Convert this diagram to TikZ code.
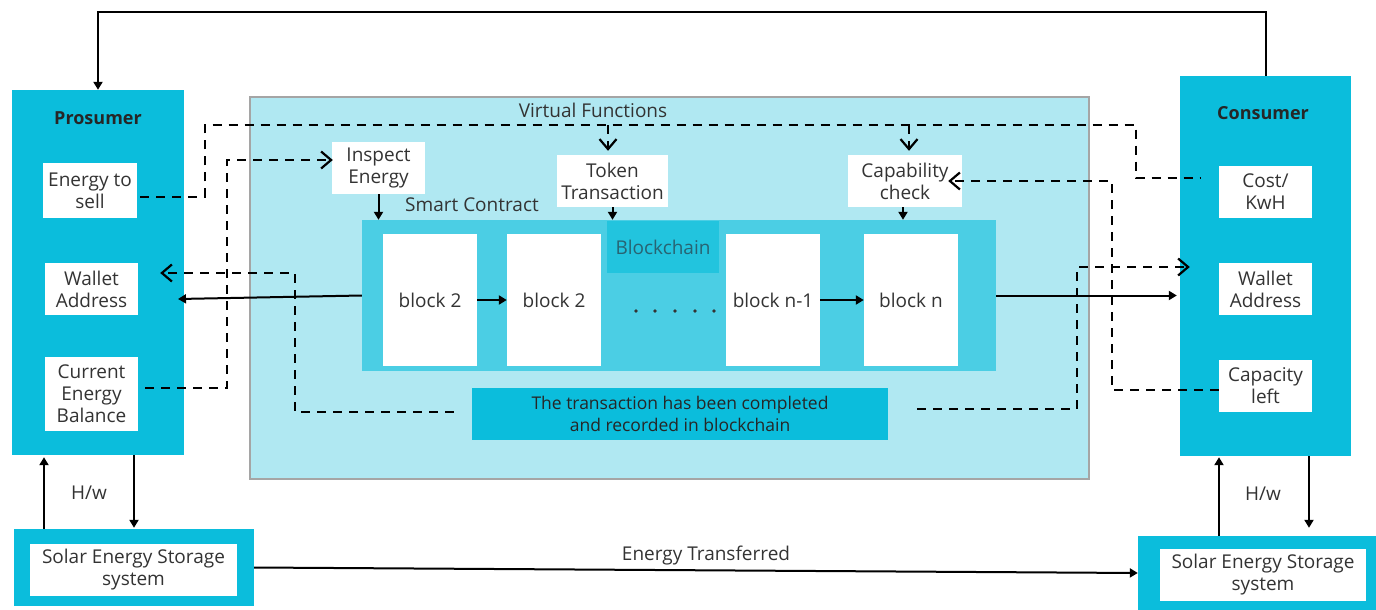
\documentclass[tikz,border=0pt]{standalone}
\usepackage{fontspec}
\setmainfont{Open Sans}
\usetikzlibrary{arrows.meta}
\definecolor{cyanA}{RGB}{11,189,220}
\definecolor{lightA}{RGB}{176,232,242}
\definecolor{midA}{RGB}{75,206,228}
\definecolor{chainA}{RGB}{34,196,222}
\definecolor{txtA}{RGB}{51,51,51}
\definecolor{chaintxt}{RGB}{40,100,115}
\definecolor{borderA}{RGB}{165,165,165}
\begin{document}
\begin{tikzpicture}[x=1pt,y=-1pt,
  bigbox/.style={fill=cyanA,inner sep=0pt},
  wbox/.style={fill=white,inner sep=0pt,align=center,text=txtA,font=\fontsize{19}{22}\selectfont},
  blockbox/.style={fill=white,inner sep=0pt,minimum width=94pt,minimum height=132pt,text=txtA,font=\fontsize{19}{20}\selectfont},
  titletxt/.style={inner sep=0pt,font=\fontsize{18}{20}\selectfont\bfseries,text=black!85},
  plain/.style={inner sep=0pt,text=txtA,font=\fontsize{19}{20}\selectfont},
  sarr/.style={line width=2pt,-{Triangle[length=8pt,width=9pt]}},
  darr/.style={line width=2pt,dash pattern=on 9pt off 7pt,-{Straight Barb[length=10pt,width=17pt,line width=2.2pt]}},
  dline/.style={line width=2pt,dash pattern=on 9pt off 7pt}]
\useasboundingbox (0,0) rectangle (1376,610);
% big containers
\node[bigbox,minimum width=172pt,minimum height=365pt] (pro) at (98,272.5) {};
\node[titletxt] (prot) at (98,118) {Prosumer};
\node[bigbox,minimum width=171pt,minimum height=380pt] (cons) at (1265.5,266) {};
\node[titletxt] (const) at (1263,113) {Consumer};
\node[fill=lightA,draw=borderA,line width=1.5pt,inner sep=0pt,minimum width=839pt,minimum height=382pt] (main) at (669.5,288) {};
% prosumer inner
\node[wbox,minimum width=94pt,minimum height=55pt] (ets) at (90,190.5) {Energy to\\sell};
\node[wbox,minimum width=93pt,minimum height=52pt] (pwa) at (91.5,289) {Wallet\\Address};
\node[wbox,minimum width=93pt,minimum height=74pt] (ceb) at (91.5,394) {Current\\Energy\\Balance};
% consumer inner
\node[wbox,minimum width=93pt,minimum height=52pt] (cost) at (1265.5,192) {Cost/\\KwH};
\node[wbox,minimum width=93pt,minimum height=52pt] (cwa) at (1265.5,289) {Wallet\\Address};
\node[wbox,minimum width=93pt,minimum height=52pt] (cap) at (1265.5,386) {Capacity\\left};
% virtual functions
\node[plain] (vf) at (593,110) {Virtual Functions};
\node[wbox,minimum width=93pt,minimum height=52pt] (insp) at (378.5,168) {Inspect\\Energy};
\node[wbox,minimum width=111pt,minimum height=52pt] (tok) at (612.5,181) {Token\\Transaction};
\node[wbox,minimum width=114pt,minimum height=52pt] (capab) at (905,181) {Capability\\check};
\node[plain] (sct) at (472,205) {Smart Contract};
% smart contract
\node[fill=midA,inner sep=0pt,minimum width=634pt,minimum height=151pt] (sc) at (679,295.5) {};
\node[fill=chainA,inner sep=0pt,minimum width=112pt,minimum height=52pt,text=chaintxt,font=\fontsize{19}{20}\selectfont] (bc) at (663,247) {Blockchain};
\node[blockbox] (b1) at (430,300) {block 2};
\node[blockbox] (b2) at (554,300) {block 2};
\node[blockbox] (b3) at (773,300) {block n-1};
\node[blockbox] (b4) at (911,300) {block n};
\foreach \dx in {636,655,675,695,714} \fill[txtA] (\dx,311) circle (1.8pt);
\node[fill=cyanA,inner sep=0pt,minimum width=416pt,minimum height=52pt,align=center,text=black!85,font=\fontsize{17.5}{22}\selectfont] (tr) at (680,414) {The transaction has been completed\\and recorded in blockchain};
% solar boxes
\node[bigbox,minimum width=240pt,minimum height=77pt] (sl) at (134,567.5) {};
\node[wbox,minimum width=207pt,minimum height=52pt] (sli) at (133.5,570) {Solar Energy Storage\\system};
\node[bigbox,minimum width=238pt,minimum height=74pt] (sr) at (1257,573) {};
\node[wbox,minimum width=206pt,minimum height=52pt] (sri) at (1263,575) {Solar Energy Storage\\system};
\node[plain] (hwl) at (89,493) {H/w};
\node[plain] (hwr) at (1263,494) {H/w};
\node[plain] (et) at (706,556) {Energy Transferred};
% coordinates
\coordinate (pu) at (44,0);
\coordinate (pd) at (134,0);
\coordinate (cu) at (1219,0);
\coordinate (cd) at (1309,0);
\coordinate (pw) at (178,299);
\coordinate (v1) at (205,125);
\coordinate (v2) at (1136,125);
\coordinate (c3) at (1112,181);
\coordinate (c4) at (1077,267);
\coordinate (c5) at (295,273);
\coordinate (c6) at (227,160);
% solid connectors
\draw[sarr] (cons.north) -- ++(0,-64) -| (pro.north);
\draw[sarr] (sl.north -| pu) -- ([yshift=-2pt]pro.south -| pu);
\draw[sarr] (pro.south -| pd) -- ([yshift=1pt]sl.north -| pd);
\draw[sarr] (sr.north -| cu) -- ([yshift=-1pt]cons.south -| cu);
\draw[sarr] (cons.south -| cd) -- ([yshift=8pt]sr.north -| cd);
\draw[sarr] (sl.east) -- (sr.west);
\draw[sarr] (sc.west) -- (pw);
\draw[sarr] (sc.east) -- ([xshift=-3pt]cons.west |- sc.east);
\draw[sarr] (insp.south) -- (insp.south |- sc.north);
\draw[sarr] (tok.south) -- (tok.south |- sc.north);
\draw[sarr] ([xshift=-2pt]capab.south) -- ([xshift=-2pt]capab.south |- sc.north);
\draw[sarr] (b1.east) -- (b2.west);
\draw[sarr] (b3.east) -- (b4.west);
% dashed connectors
\draw[dline] ([xshift=3pt,yshift=-6pt]ets.east) -| (v1) -- (v2) |- ([xshift=-19pt,yshift=14pt]cost.west);
\draw[darr] ([xshift=-4.5pt]tok.north |- v1) -- ([xshift=-4.5pt,yshift=4pt]tok.north);
\draw[darr] ([xshift=4pt]capab.north |- v1) -- ([xshift=4pt,yshift=4pt]capab.north);
\draw[darr] ([yshift=-4pt]cap.west) -| (c3) -- ([xshift=-14pt]capab.east |- c3);
\draw[darr] ([xshift=29pt,yshift=5pt]tr.east) -| (c4) -- ([xshift=10pt]cons.west |- c4);
\draw[darr] ([xshift=-18pt,yshift=2pt]tr.west) -| (c5) -- ([xshift=22pt]pwa.east |- c5);
\draw[darr] ([xshift=7pt,yshift=6pt]ceb.east) -| (c6) -- ([xshift=1pt]insp.west |- c6);
\end{tikzpicture}
\end{document}
